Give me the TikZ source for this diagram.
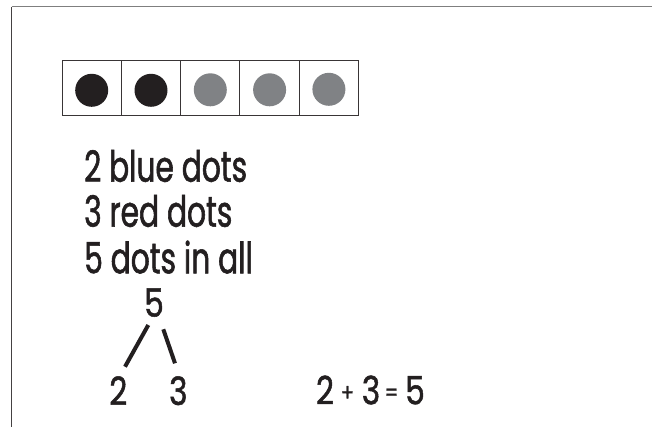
\documentclass[tikz,border=0pt]{standalone}
\usepackage{fontspec}
\newfontfamily\hand{Poppins}[FakeStretch=0.8,FakeBold=1.3]
\newfontfamily\handn{Poppins}[FakeStretch=0.69,FakeBold=1.3]
\definecolor{ink}{HTML}{231F20}
\definecolor{dotgrey}{HTML}{808285}
\definecolor{framegrey}{HTML}{7F7F7F}
\begin{document}
\begin{tikzpicture}[x=1pt,y=-1pt,
  cell/.style={draw=ink!90,line width=0.9pt,minimum width=59.3pt,minimum height=55pt,inner sep=0pt},
  darkdot/.style={circle,fill=ink,minimum size=33pt,inner sep=0pt},
  greydot/.style={circle,fill=dotgrey,minimum size=33pt,inner sep=0pt},
  bigtxt/.style={anchor=base west,inner sep=0pt,text=ink,font=\handn\fontsize{43}{43}\selectfont},
  numtxt/.style={anchor=base,inner sep=0pt,text=ink,font=\hand\fontsize{39}{39}\selectfont},
  optxt/.style={anchor=base,inner sep=0pt,text=ink,font=\hand\fontsize{24}{24}\selectfont},
  bondline/.style={draw=ink,line width=4pt}]
\useasboundingbox (0,0) rectangle (652,427);
\fill[white] (0,0) rectangle (652,427);
% page border
\coordinate (tl) at (11.5,6.8);
\coordinate (tr) at (652,6.8);
\coordinate (bl) at (11.5,427);
\draw[framegrey,line width=1.4pt] (tl) -- (tr);
\draw[ink!85,line width=1.1pt] (tl) -- (bl);
% ten frame (five cells)
\foreach \i in {0,...,4}{
  \node[cell] (c\i) at ({62+59.3*(\i+0.5)},87.8) {};
}
\node[darkdot] (d0) at (91.7,90.3) {};
\node[darkdot] (d1) at (151,90.3) {};
\node[greydot] (d2) at (210.3,89.8) {};
\node[greydot] (d3) at (269.6,89.8) {};
\node[greydot] (d4) at (328.9,89.3) {};
% text lines
\node[bigtxt] (t1) at (84,181.7) {2 blue dots};
\node[bigtxt] (t2) at (84,226.7) {3 red dots};
\node[bigtxt] (t3) at (84,273.3) {5 dots in all};
% number bond
\node[numtxt] (n5) at (154,316.7) {5};
\node[numtxt] (n2) at (118.3,405) {2};
\node[numtxt] (n3) at (178.3,405) {3};
\coordinate (la) at (148.3,325);
\coordinate (lb) at (125,366.7);
\coordinate (ra) at (163.3,329.3);
\coordinate (rb) at (175,363.3);
\draw[bondline] (la) -- (lb);
\draw[bondline] (ra) -- (rb);
% equation
\node[numtxt] (e2) at (325,404.3) {2};
\node[optxt] (ep) at (347.5,401) {+};
\node[numtxt] (e3) at (371,404.3) {3};
\node[optxt] (ee) at (391.5,401) {=};
\node[numtxt] (e5) at (415,404.3) {5};
\end{tikzpicture}
\end{document}
